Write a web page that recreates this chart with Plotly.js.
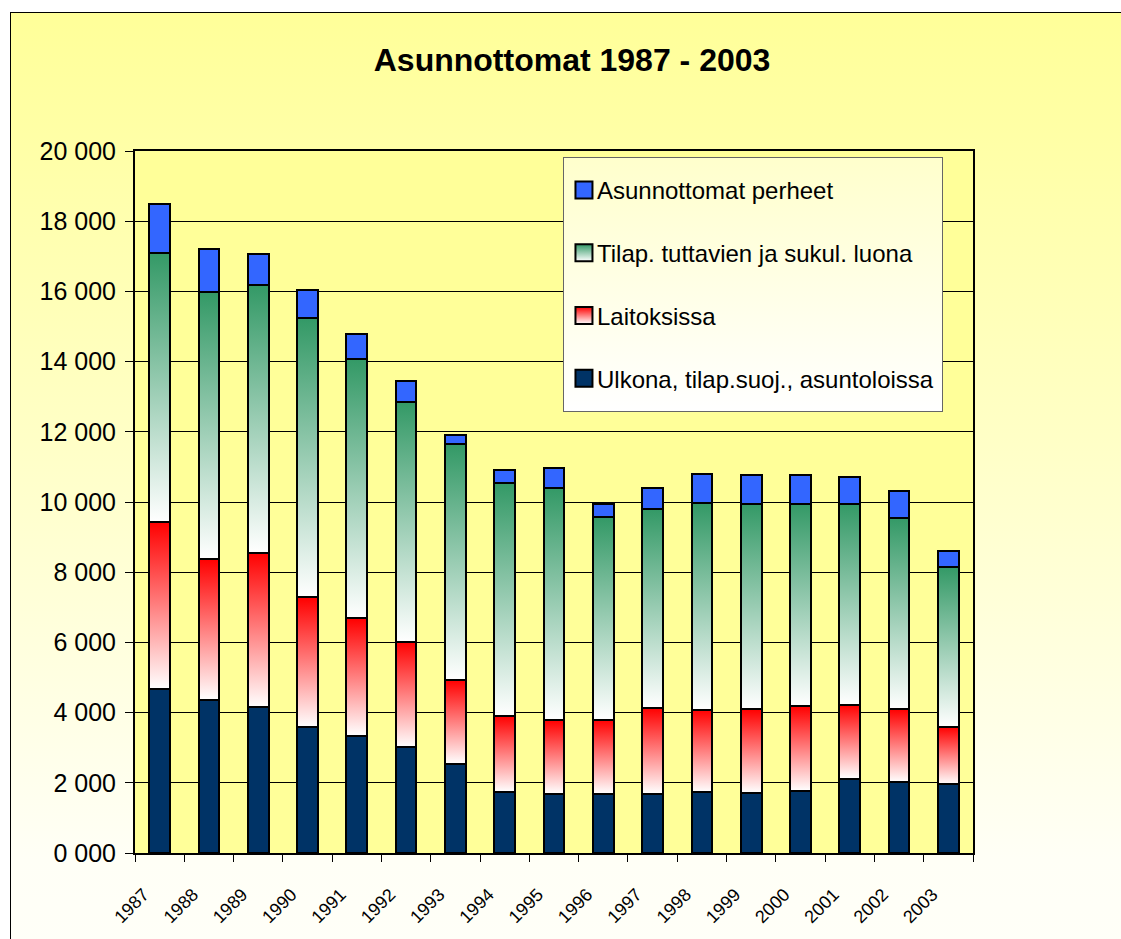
<!DOCTYPE html>
<html>
<head>
<meta charset="utf-8">
<script src="https://cdn.plot.ly/plotly-3.0.1.min.js"></script>
<style>
  html, body { margin: 0; padding: 0; background: #ffffff; }
  #bg {
    position: absolute; left: 10px; top: 12px; width: 1130px; height: 940px;
    border: 1px solid #000;
    background: linear-gradient(to bottom, #FFFF99 0%, #FFFFC6 45%, #FFFFF6 90%, #FFFFF8 100%);
  }
  #chart { position: absolute; left: 0; top: 0; width: 1121px; height: 939px; }
</style>
</head>
<body>
<div id="bg"></div>
<div id="chart"></div>
<script>
// ---- data ----
const years = ['1987','1988','1989','1990','1991','1992','1993','1994','1995','1996','1997','1998','1999','2000','2001','2002','2003'];
const ulkona      = [4670, 4370, 4150, 3580, 3345, 3010, 2540, 1740, 1690, 1690, 1690, 1730, 1710, 1765, 2120, 2020, 1955];
const laitoksissa = [4760, 4010, 4410, 3700, 3340, 3010, 2390, 2165, 2090, 2110, 2440, 2355, 2385, 2415, 2110, 2075, 1635];
const tilap       = [7675, 7605, 7625, 7950, 7390, 6830, 6710, 6640, 6620, 5770, 5670, 5880, 5860, 5775, 5715, 5460, 4560];
const perheet     = [1375, 1215,  875,  815,  725,  600,  265,  380,  580,  380,  600,  825,  805,  815,  780,  770,  440];
const seriesNames = ['Ulkona, tilap.suoj., asuntoloissa', 'Laitoksissa', 'Tilap. tuttavien ja sukul. luona', 'Asunnottomat perheet'];
const yTickVals  = [0, 2000, 4000, 6000, 8000, 10000, 12000, 14000, 16000, 18000, 20000];
const yTickText  = ['0 000', '2 000', '4 000', '6 000', '8 000', '10 000', '12 000', '14 000', '16 000', '18 000', '20 000'];

const FONT = 'Liberation Sans, Arial, sans-serif';
const line = {color: '#000000', width: 2};

function bar(y, name, color, group, rank) {
  return {type: 'bar', x: years, y: y, name: name, legendgroup: group, legendrank: rank,
          marker: {color: color, line: line}, hoverinfo: 'x+y+name'};
}

const data = [
  bar(ulkona, seriesNames[0], '#003366', 'g1', 4),
  bar(laitoksissa, seriesNames[1], '#FF8080', 'g2', 3),
  bar(tilap, seriesNames[2], '#8FBF9F', 'g3', 2),
  bar(perheet, seriesNames[3], '#3366FF', 'g4', 1)
];

const layout = {
  width: 1121, height: 939,
  paper_bgcolor: 'rgba(0,0,0,0)',
  plot_bgcolor: '#FFFF99',
  margin: {l: 135, r: 148, t: 151, b: 86},
  barmode: 'stack',
  bargap: 0.58,
  font: {family: FONT, color: '#000'},
  title: {text: '<b>Asunnottomat 1987 - 2003</b>', font: {family: FONT, size: 32, color: '#000'},
          xref: 'container', yref: 'container', x: 0.5103, y: 0.936, xanchor: 'center', yanchor: 'middle'},
  xaxis: {type: 'category', tickangle: -45, tickfont: {size: 18, family: FONT},
          ticks: 'outside', tickson: 'boundaries', ticklen: 7, tickcolor: '#000', tickwidth: 1,
          ticklabelstandoff: 22, ticklabelshift: -16,
          showline: true, linecolor: '#000', linewidth: 2, mirror: true, showgrid: false},
  yaxis: {range: [0, 20000], tickvals: yTickVals, ticktext: yTickText,
          tickfont: {size: 25, family: FONT}, ticks: 'outside', ticklen: 8, tickcolor: '#000', tickwidth: 1,
          ticklabelstandoff: 4,
          showline: true, linecolor: '#000', linewidth: 2, mirror: true,
          showgrid: true, gridcolor: '#000', gridwidth: 1, zeroline: false, fixedrange: true},
  legend: {x: 0.5107, y: 0.9915, xanchor: 'left', yanchor: 'top',
           traceorder: 'grouped', tracegroupgap: 28.5,
           bgcolor: '#FFFFE6', bordercolor: '#666', borderwidth: 1,
           font: {size: 24, family: FONT, color: '#000'}, itemclick: false, itemdoubleclick: false},
  showlegend: true
};

const gradMap = {};
gradMap[seriesNames[1]] = 'gradRed';
gradMap[seriesNames[2]] = 'gradGreen';

function ensureDefs(gd) {
  if (document.getElementById('gradGreen')) return;
  const svg = gd.querySelector('svg.main-svg');
  const ns = 'http://www.w3.org/2000/svg';
  let defs = svg.querySelector('defs');
  if (!defs) { defs = document.createElementNS(ns, 'defs'); svg.insertBefore(defs, svg.firstChild); }
  function mk(id, top, bottom) {
    const g = document.createElementNS(ns, 'linearGradient');
    g.setAttribute('id', id);
    g.setAttribute('x1', '0'); g.setAttribute('y1', '0'); g.setAttribute('x2', '0'); g.setAttribute('y2', '1');
    const s1 = document.createElementNS(ns, 'stop'); s1.setAttribute('offset', '0'); s1.setAttribute('stop-color', top);
    const s2 = document.createElementNS(ns, 'stop'); s2.setAttribute('offset', '1'); s2.setAttribute('stop-color', bottom);
    g.appendChild(s1); g.appendChild(s2); defs.appendChild(g);
  }
  mk('gradGreen', '#339966', '#FFFFFF');
  mk('gradRed', '#FF0000', '#FFFFFF');
  mk('gradLegend', '#FFFFCC', '#FFFFFF');
}

function applyStyles(gd) {
  ensureDefs(gd);
  const traces = gd.querySelectorAll('.barlayer .trace');
  traces.forEach(function (t, i) {
    const name = data[i] && data[i].name;
    const gid = gradMap[name];
    if (gid) t.querySelectorAll('.point path').forEach(function (p) { p.style.fill = 'url(#' + gid + ')'; });
  });
  gd.querySelectorAll('.legend .traces').forEach(function (t) {
    const txt = t.querySelector('.legendtext');
    const name = txt ? txt.textContent : '';
    t.querySelectorAll('.legendpoints path').forEach(function (p) {
      p.setAttribute('d', 'M8.5,8.5H-8.5V-8.5H8.5Z');
      if (gradMap[name]) p.style.fill = 'url(#' + gradMap[name] + ')';
    });
    if (txt && !txt.dataset.moved) { txt.setAttribute('x', '33'); txt.dataset.moved = '1'; }
  });
  const leg = gd.querySelector('.legend');
  if (leg && !leg.dataset.adjusted) {
    leg.dataset.adjusted = '1';
    const bgr = leg.querySelector('rect.bg');
    if (bgr) {
      bgr.style.fill = 'url(#gradLegend)';
      const h = parseFloat(bgr.getAttribute('height'));
      bgr.setAttribute('height', h + 20);
      const w = parseFloat(bgr.getAttribute('width'));
      bgr.setAttribute('width', w - 4);
    }
    const sb = leg.querySelector('.scrollbox');
    if (sb) {
      sb.removeAttribute('clip-path');
      const tr = sb.getAttribute('transform') || '';
      sb.setAttribute('transform', tr + ' translate(0,10)');
    }
  }
}

const gd = document.getElementById('chart');
Plotly.newPlot(gd, data, layout, {displayModeBar: false}).then(function () {
  applyStyles(gd);
  gd.on('plotly_afterplot', function () { applyStyles(gd); });
});
</script>
</body>
</html>
